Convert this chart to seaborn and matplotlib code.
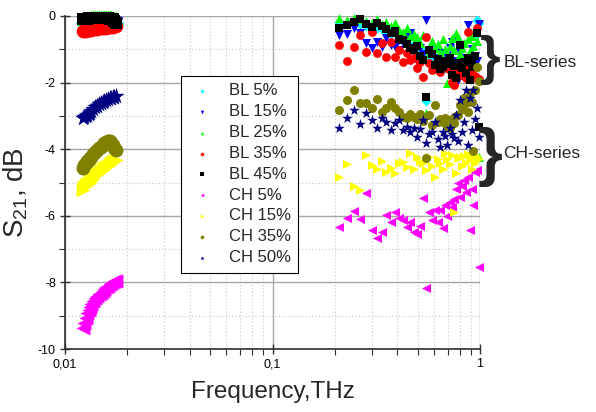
import pandas as pd
import matplotlib
matplotlib.use("Agg")
import matplotlib.pyplot as plt
import seaborn as sns
from matplotlib.ticker import MultipleLocator, LogLocator, NullFormatter

# series names, colours and markers (legend order = drawing order)
series_names = ["BL 5%", "BL 15%", "BL 25%", "BL 35%", "BL 45%",
                "CH 5%", "CH 15%", "CH 35%", "CH 50%"]
series_colors = ["#00ffff", "#0000ff", "#00ff00", "#ff0000", "#000000",
                 "#ff00ff", "#ffff00", "#808000", "#000080"]
series_markers = ["D", "v", "^", "o", "s", "<", ">", "o", "*"]
marker_sizes = [26, 42, 42, 40, 36, 42, 42, 42, 64]

# low-frequency band (THz)
freq_low = [0.0122, 0.0124, 0.0126, 0.0128, 0.0130, 0.0132, 0.0134, 0.0137,
            0.0140, 0.0143, 0.0146, 0.0149, 0.0152, 0.0155, 0.0158, 0.0161,
            0.0164, 0.0167, 0.0170, 0.0173, 0.0176]

low_bl5 = [-0.20, -0.19, -0.19, -0.18, -0.18, -0.17, -0.17, -0.17, -0.16, -0.16, -0.16,
           -0.15, -0.15, -0.15, -0.15, -0.15, -0.16, -0.17, -0.18, -0.20, -0.22]
low_bl15 = [-0.22, -0.21, -0.21, -0.20, -0.20, -0.19, -0.19, -0.18, -0.18, -0.18, -0.17,
            -0.17, -0.17, -0.17, -0.17, -0.18, -0.18, -0.19, -0.20, -0.22, -0.24]
low_bl25 = [-0.06, -0.06, -0.05, -0.05, -0.05, -0.05, -0.04, -0.04, -0.04, -0.04, -0.04,
            -0.04, -0.04, -0.04, -0.04, -0.04, -0.04, -0.04, -0.05, -0.05, -0.06]
low_bl35 = [-0.46, -0.45, -0.44, -0.43, -0.42, -0.41, -0.41, -0.40, -0.39, -0.38, -0.37,
            -0.37, -0.36, -0.35, -0.35, -0.34, -0.33, -0.33, -0.32, -0.31, -0.30]
low_bl45 = [-0.08, -0.08, -0.08, -0.08, -0.07, -0.07, -0.07, -0.07, -0.07, -0.07, -0.07,
            -0.07, -0.07, -0.07, -0.07, -0.07, -0.08, -0.08, -0.09, -0.14, -0.20]
low_ch5 = [-9.37, -9.22, -9.07, -8.93, -8.83, -8.74, -8.66, -8.56, -8.48, -8.42, -8.36,
           -8.31, -8.25, -8.19, -8.14, -8.10, -8.06, -8.02, -7.99, -7.96, -7.95]
low_ch15 = [-5.22, -5.15, -5.10, -5.06, -5.03, -5.00, -4.95, -4.88, -4.81, -4.75, -4.70,
            -4.66, -4.61, -4.57, -4.53, -4.50, -4.46, -4.42, -4.38, -4.35, -4.32]
low_ch35 = [-4.56, -4.48, -4.42, -4.36, -4.31, -4.27, -4.22, -4.15, -4.08, -4.02, -3.97,
            -3.92, -3.86, -3.81, -3.77, -3.75, -3.76, -3.80, -3.87, -3.95, -4.02]
low_ch50 = [-3.06, -3.03, -3.00, -2.97, -2.94, -2.91, -2.86, -2.80, -2.74, -2.69, -2.65,
            -2.61, -2.57, -2.54, -2.51, -2.49, -2.47, -2.45, -2.43, -2.42, -2.41]

# THz band
freq_high = [0.210, 0.228, 0.246, 0.264, 0.282, 0.300, 0.318, 0.336, 0.354, 0.372, 0.390,
             0.408, 0.426, 0.444, 0.462, 0.480, 0.498, 0.516, 0.534, 0.552, 0.570, 0.588,
             0.606, 0.624, 0.642, 0.660, 0.678, 0.696, 0.714, 0.732, 0.750, 0.768, 0.786,
             0.804, 0.822, 0.840, 0.858, 0.876, 0.894, 0.912, 0.930, 0.948, 0.966, 0.984]

high_bl5 = [-0.18, -0.20, -0.15, -0.25, -0.30, -0.28, -0.35, -0.40, -0.45, -0.55, -0.50,
            -0.70, -0.65, -0.80, -0.90, -0.85, -1.00, -1.10, -1.05, -2.55, -1.20, -1.15,
            -1.30, -1.40, -1.25, -1.45, -1.55, -1.35, -1.50, -1.60, -1.40, -1.70, -1.55,
            -1.65, -1.45, -1.75, -1.50, -1.60, -1.68, -1.40, -1.55, -0.60, -0.12, -0.20]
high_bl15 = [-0.57, -0.55, -0.36, -0.50, -0.81, -0.96, -0.78, -0.92, -0.66, -0.87, -0.93,
             -1.02, -0.81, -0.57, -0.51, -1.10, -1.38, -0.95, -1.15, -0.12, -1.02, -1.53,
             -1.25, -1.47, -1.10, -1.30, -1.47, -1.20, -0.95, -0.78, -1.35, -1.83, -1.92,
             -1.10, -0.93, -1.40, -1.25, -0.27, -1.62, -1.00, -1.50, -1.20, -1.35, -0.25]
high_bl25 = [-0.05, -0.12, -0.06, -0.10, -0.15, -0.20, -0.08, -0.25, -0.18, -0.30, -0.22,
             -0.42, -0.48, -0.35, -0.60, -0.55, -0.63, -0.80, -0.57, -2.90, -1.11, -0.75,
             -0.95, -0.85, -1.08, -0.70, -1.00, -2.01, -0.90, -0.65, -1.02, -0.51, -0.63,
             -1.15, -0.95, -0.81, -1.23, -0.70, -1.05, -0.60, -0.90, -0.40, -0.75, -4.23]
high_bl35 = [-0.87, -1.35, -0.93, -0.57, -1.08, -0.48, -1.11, -0.81, -1.23, -0.78, -1.23,
             -1.02, -1.38, -1.11, -1.32, -1.26, -1.56, -1.38, -1.83, -0.63, -1.41, -1.62,
             -1.47, -1.30, -1.68, -1.50, -1.40, -1.55, -1.62, -1.98, -2.07, -1.53, -1.45,
             -1.68, -1.77, -1.60, -1.86, -0.48, -1.70, -1.86, -1.55, -1.80, -0.35, -1.90]
high_bl45 = [-0.36, -0.27, -0.18, -0.10, -0.25, -0.33, -0.22, -0.30, -0.40, -0.50, -0.45,
             -0.68, -0.72, -0.85, -0.95, -1.02, -0.90, -1.20, -1.32, -2.43, -1.02, -1.15,
             -1.47, -1.30, -1.60, -1.53, -1.35, -1.45, -1.26, -1.77, -1.50, -1.86, -1.40,
             -0.87, -1.55, -1.38, -1.70, -1.26, -1.92, -1.45, -1.53, -1.20, -0.51, -3.33]
high_ch5 = [-6.34, -6.07, -5.85, -6.10, -5.33, -6.43, -6.67, -6.50, -5.98, -6.19, -5.88,
            -6.07, -6.13, -6.33, -6.20, -6.50, -6.55, -6.30, -5.47, -8.17, -5.88, -6.13,
            -5.83, -6.20, -5.83, -6.37, -5.67, -6.00, -5.60, -5.75, -5.50, -5.20, -5.00,
            -5.45, -5.10, -4.92, -5.30, -4.83, -6.43, -5.20, -5.67, -4.68, -4.62, -7.53]
high_ch15 = [-4.84, -4.45, -5.10, -5.22, -4.17, -4.47, -4.60, -4.35, -4.68, -4.55, -4.70,
             -4.40, -4.38, -4.52, -4.12, -4.60, -4.22, -4.35, -4.42, -4.62, -4.23, -4.50,
             -4.83, -4.30, -4.40, -4.60, -4.12, -4.30, -4.45, -4.17, -5.90, -4.70, -4.25,
             -4.23, -4.50, -4.20, -4.42, -4.15, -4.30, -4.60, -4.25, -4.40, -4.20, -4.30]
high_ch35 = [-2.82, -2.52, -2.22, -2.60, -2.60, -2.76, -2.50, -2.88, -2.76, -2.58, -2.76,
             -2.88, -3.03, -3.06, -2.95, -3.03, -3.10, -2.95, -3.15, -4.26, -2.97, -3.27,
             -2.67, -3.18, -3.10, -3.18, -3.06, -3.30, -3.36, -3.10, -3.21, -3.00, -2.97,
             -2.67, -2.80, -2.46, -2.60, -2.88, -2.31, -2.58, -4.05, -2.22, -1.53, -1.95]
high_ch50 = [-3.37, -3.06, -2.82, -3.24, -2.90, -3.12, -3.36, -3.06, -3.18, -3.42, -3.21,
             -3.12, -3.42, -3.33, -3.48, -3.36, -3.63, -3.40, -3.12, -3.81, -3.55, -3.48,
             -3.18, -3.70, -3.93, -3.48, -3.60, -3.87, -3.36, -3.55, -3.66, -2.97, -3.75,
             -2.52, -3.48, -3.18, -2.22, -3.87, -2.46, -3.42, -2.22, -3.10, -2.76, -3.63]

low_vals = [low_bl5, low_bl15, low_bl25, low_bl35, low_bl45,
            low_ch5, low_ch15, low_ch35, low_ch50]
high_vals = [high_bl5, high_bl15, high_bl25, high_bl35, high_bl45,
             high_ch5, high_ch15, high_ch35, high_ch50]

x_tick_vals = [0.01, 0.1, 1]
x_tick_labels = ["0,01", "0,1", "1"]
y_tick_vals = [0, -2, -4, -6, -8, -10]

rows = []
for name, lv, hv in zip(series_names, low_vals, high_vals):
    for f, v in zip(freq_low, lv):
        rows.append((name, "low", f, v))
    for f, v in zip(freq_high, hv):
        rows.append((name, "high", f, v))
df = pd.DataFrame(rows, columns=["series", "band", "freq", "s21"])

sns.set_theme(style="white")
plt.rcParams["font.family"] = ["Liberation Sans", "DejaVu Sans"]
plt.rcParams["mathtext.fontset"] = "custom"
plt.rcParams["mathtext.rm"] = "Liberation Sans"
plt.rcParams["mathtext.it"] = "Liberation Sans"
plt.rcParams["axes.unicode_minus"] = False

fig = plt.figure(figsize=(5.96, 4.12), dpi=100)
ax = fig.add_axes([65 / 596, 1 - 349 / 412, 415 / 596, 333 / 412])

for name, col, mk, sz in zip(series_names, series_colors, series_markers, marker_sizes):
    sub = df[df["series"] == name]
    # low band is a dense measurement: drawn as a thick band of markers
    sns.scatterplot(data=sub[sub["band"] == "low"], x="freq", y="s21", marker=mk,
                    color=col, s=sz * 2.4, linewidth=0, ax=ax, clip_on=False, zorder=3)
    sns.scatterplot(data=sub[sub["band"] == "high"], x="freq", y="s21", marker=mk,
                    color=col, s=sz, linewidth=0, ax=ax, label=name, clip_on=False, zorder=3)

ax.set_xscale("log")
ax.set_xlim(0.01, 1)
ax.set_ylim(-10, 0)

ax.set_xticks(x_tick_vals)
ax.set_xticklabels(x_tick_labels)
ax.xaxis.set_minor_locator(LogLocator(base=10, subs=[2, 3, 4, 5, 6, 7, 8, 9]))
ax.xaxis.set_minor_formatter(NullFormatter())
ax.set_yticks(y_tick_vals)
ax.yaxis.set_minor_locator(MultipleLocator(1))

ax.grid(True, which="major", color="#a6a6a6", linewidth=1.0, linestyle="-", zorder=0)
ax.grid(True, which="minor", color="#c8c8c8", linewidth=0.8, linestyle=(0, (1, 2)), zorder=0)
ax.set_axisbelow(True)

for side in ["top", "right"]:
    ax.spines[side].set_visible(False)
for side in ["left", "bottom"]:
    ax.spines[side].set_color("#303030")
    ax.spines[side].set_linewidth(1.2)

ax.tick_params(which="major", direction="inout", length=7, width=1, color="#303030",
               labelsize=9, labelcolor="black", bottom=True, left=True, pad=3)
ax.tick_params(which="minor", direction="out", length=4, width=0.8, color="#303030",
               bottom=True, left=True)

ax.set_xlabel("Frequency,THz", fontsize=17.5, labelpad=8)
ax.set_ylabel("S$_{21}$, dB", fontsize=20, labelpad=4)
ax.yaxis.set_label_coords(-0.085, 0.47)

leg = ax.legend(loc="upper left", bbox_to_anchor=(0.28, 0.82), fontsize=12,
                frameon=True, fancybox=False, framealpha=1, edgecolor="black",
                markerscale=0.4, labelspacing=0.35, handletextpad=0.8,
                borderpad=0.45, handlelength=1.6, borderaxespad=0)
leg.get_frame().set_linewidth(0.8)

# braces marking the two groups
fig.text(0.822, 0.855, "}", fontsize=38, ha="center", va="center", fontweight="bold")
fig.text(0.845, 0.849, "BL-series", fontsize=12.5, ha="left", va="center")
fig.text(0.822, 0.620, "}", fontsize=46, ha="center", va="center", fontweight="bold")
fig.text(0.845, 0.628, "CH-series", fontsize=12.5, ha="left", va="center")

fig.savefig("out.png", dpi=100)
